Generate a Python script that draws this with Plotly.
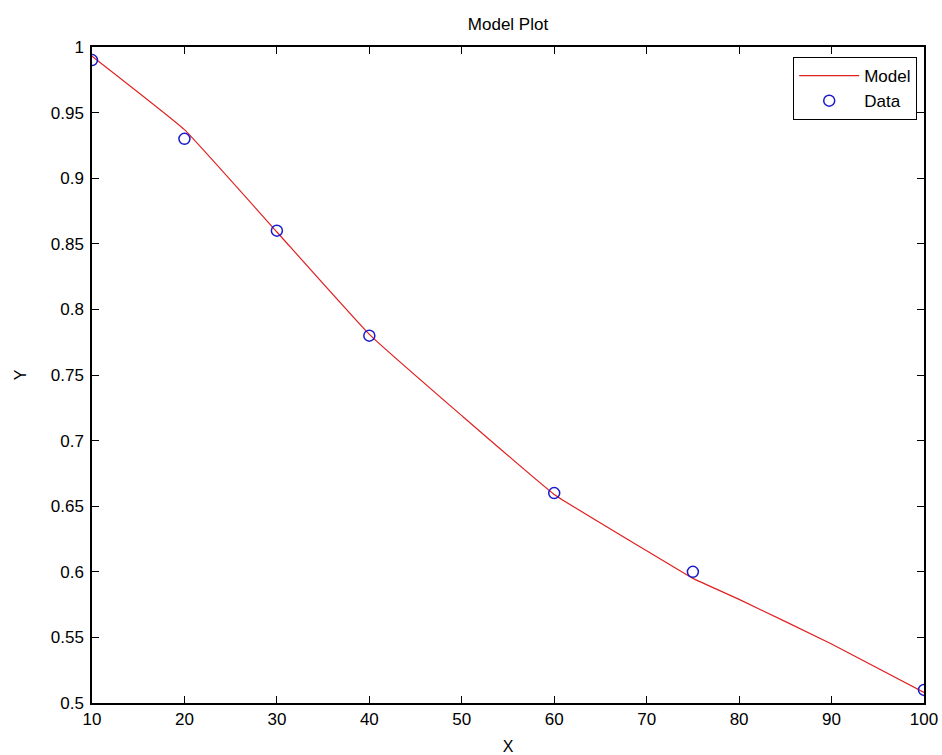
import plotly.graph_objects as go

model_x = [10, 20, 30, 40, 50, 60, 70, 75, 80, 90, 100]
model_y = [0.993, 0.937, 0.859, 0.781, 0.719, 0.659, 0.616, 0.595, 0.579, 0.545, 0.508]
data_x = [10, 20, 30, 40, 60, 75, 100]
data_y = [0.99, 0.93, 0.86, 0.78, 0.66, 0.60, 0.51]
x_ticks = [10, 20, 30, 40, 50, 60, 70, 80, 90, 100]
y_ticks = [0.5, 0.55, 0.6, 0.65, 0.7, 0.75, 0.8, 0.85, 0.9, 0.95, 1]
y_labels = ["0.5", "0.55", "0.6", "0.65", "0.7", "0.75", "0.8", "0.85", "0.9", "0.95", "1"]

FONT = "Liberation Sans, Arial, sans-serif"

fig = go.Figure()
fig.add_trace(go.Scatter(x=model_x, y=model_y, mode="lines", name="Model",
                         line=dict(color="#e02020", width=1.2, shape="spline", smoothing=0.3)))
fig.add_trace(go.Scatter(x=data_x, y=data_y, mode="markers", name="Data",
                         marker=dict(symbol="circle-open", size=11, color="#1a1acc",
                                     line=dict(width=1.5, color="#1a1acc"))))

axis_common = dict(showgrid=False, zeroline=False, showline=True, mirror="allticks",
                   linecolor="black", linewidth=1.5, ticks="inside", ticklen=7,
                   tickcolor="black", tickwidth=1, automargin=False,
                   tickfont=dict(family=FONT, size=17, color="black"))

W, H = 942, 755
fig.update_layout(
    width=W, height=H,
    margin=dict(l=92, r=18, t=47, b=52),
    paper_bgcolor="white", plot_bgcolor="white",
    title=dict(text="Model Plot", x=0.5, xanchor="center", xref="paper",
               y=1 - 24 / H, yanchor="middle", yref="container",
               font=dict(family=FONT, size=17, color="black")),
    xaxis=dict(range=[10, 100], tickvals=x_ticks,
               title=dict(text="X", standoff=14,
                          font=dict(family=FONT, size=16, color="black")), **axis_common),
    yaxis=dict(range=[0.5, 1], tickvals=y_ticks, ticktext=y_labels, ticklabelstandoff=3,
               title=dict(text="Y", standoff=20,
                          font=dict(family=FONT, size=16, color="black")), **axis_common),
    legend=dict(x=0.9916, y=0.985, xanchor="right", yanchor="top",
                bordercolor="black", borderwidth=1.2, bgcolor="white",
                itemwidth=60,
                font=dict(family=FONT, size=17, color="black")),
    showlegend=True,
)
fig.write_html("out.html", config={"displayModeBar": False},
               post_script="document.body.style.margin='0px';")
